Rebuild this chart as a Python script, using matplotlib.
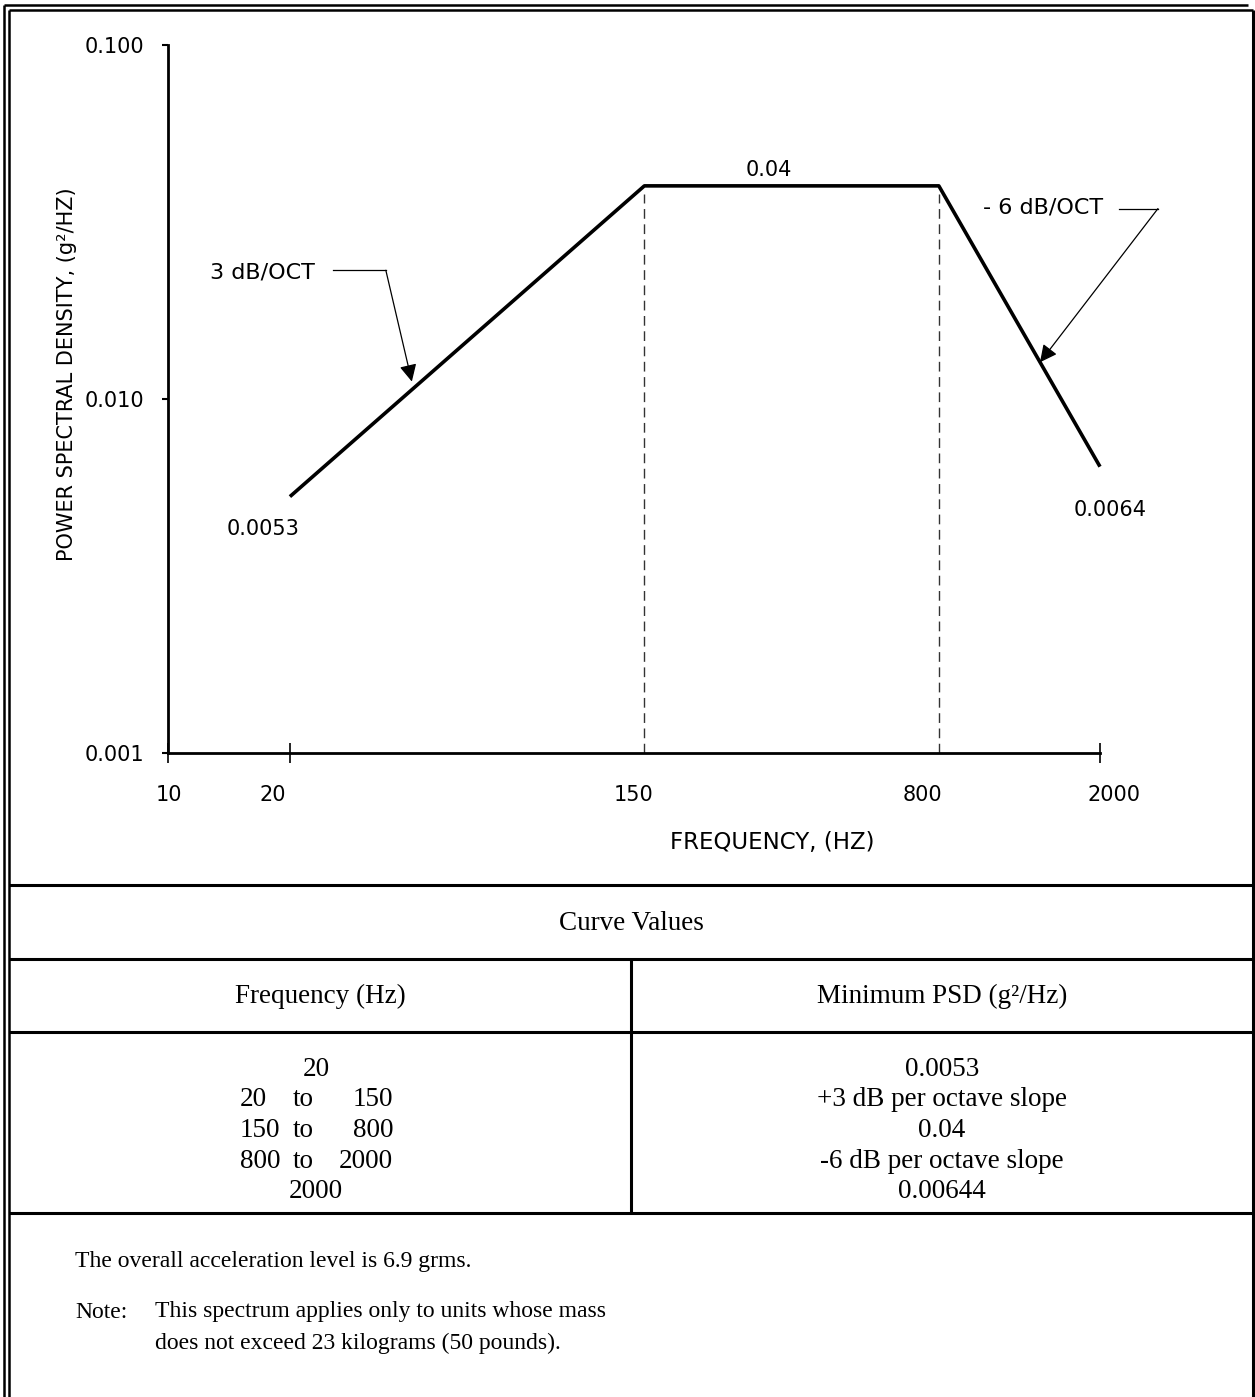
import numpy as np
import matplotlib.pyplot as plt
from matplotlib.transforms import ScaledTranslation

# Random vibration spec: breakpoints of the minimum PSD curve
freq_hz = [20, 150, 800, 2000]
psd_g2hz = [0.0053, 0.04, 0.04, 0.00644]

# Point labels on the curve
psd_labels = ['0.0053', '0.04', '0.0064']

# Axis ticks
xtick_vals = [10, 20, 150, 800, 2000]
xtick_text = ['10', '20', '150', '800', '2000']
ytick_vals = [0.001, 0.01, 0.1]
ytick_text = ['0.001', '0.010', '0.100']

# Curve values table
freq_col = [('20', '', ''), ('20', 'to', '150'), ('150', 'to', '800'),
            ('800', 'to', '2000'), ('2000', '', '')]
psd_col = ['0.0053', '+3 dB per octave slope', '0.04',
           '-6 dB per octave slope', '0.00644']

W, H = 1255, 1397
sans = 'DejaVu Sans'
serif = 'Liberation Serif'
fs_sans = 15
fs_tab = 19.5
fs_note = 17

fig = plt.figure(figsize=(W / 100, H / 100), dpi=100)

# page frame in pixel units
pg = fig.add_axes([0, 0, 1, 1])
pg.set_xlim(0, W)
pg.set_ylim(H, 0)
pg.axis('off')

lk = dict(color='black', solid_capstyle='butt')
pg.plot([4, 4], [5, H], lw=1.8, **lk)
pg.plot([4, 1248], [5, 5], lw=1.8, **lk)
pg.plot([9, 9], [10, H], lw=1.8, **lk)
pg.plot([9, 1253], [10, 10], lw=1.8, **lk)
pg.plot([1253, 1253], [10, H], lw=2.2, **lk)
for yy in [885, 959, 1032, 1213]:
    pg.plot([9, 1253], [yy, yy], lw=2.2, **lk)
pg.plot([631, 631], [959, 1213], lw=2.2, **lk)

pg.text(631, 924, 'Curve Values', family=serif, fontsize=fs_tab,
        ha='center', va='center')
pg.text(320, 996, 'Frequency (Hz)', family=serif, fontsize=fs_tab,
        ha='center', va='center')
pg.text(942, 996, 'Minimum PSD (g\u00b2/Hz)', family=serif, fontsize=fs_tab,
        ha='center', va='center')

row_y = 1069
for (a, mid, b), p in zip(freq_col, psd_col):
    if mid:
        pg.text(240, row_y, a, family=serif, fontsize=fs_tab, ha='left', va='center')
        pg.text(303, row_y, mid, family=serif, fontsize=fs_tab, ha='center', va='center')
        pg.text(393, row_y, b, family=serif, fontsize=fs_tab, ha='right', va='center')
    else:
        pg.text(316, row_y, a, family=serif, fontsize=fs_tab, ha='center', va='center')
    pg.text(942, row_y, p, family=serif, fontsize=fs_tab, ha='center', va='center')
    row_y += 30.7

pg.text(75, 1262, 'The overall acceleration level is 6.9 grms.', family=serif,
        fontsize=fs_note, ha='left', va='center')
pg.text(75, 1312, 'Note:', family=serif, fontsize=fs_note, ha='left', va='center')
pg.text(155, 1312, 'This spectrum applies only to units whose mass',
        family=serif, fontsize=fs_note, ha='left', va='center')
pg.text(155, 1343, 'does not exceed 23 kilograms (50 pounds).', family=serif,
        fontsize=fs_note, ha='left', va='center')

# PSD chart
x0, x1, y0, y1 = 168, 1100, 45, 753
ax = fig.add_axes([x0 / W, 1 - y1 / H, (x1 - x0) / W, (y1 - y0) / H])
ax.patch.set_alpha(0)
ax.set_xscale('log')
ax.set_yscale('log')
ax.set_xlim(10, 2000)
ax.set_ylim(0.001, 0.1)
ax.spines['top'].set_visible(False)
ax.spines['right'].set_visible(False)
ax.spines['left'].set_linewidth(2.0)
ax.spines['bottom'].set_linewidth(2.0)
ax.minorticks_off()

ax.set_yticks(ytick_vals, labels=ytick_text)
ax.tick_params(axis='y', direction='out', length=4, width=1.5, pad=13,
               labelsize=fs_sans)
ax.set_xticks(xtick_vals, labels=xtick_text)
ax.tick_params(axis='x', direction='inout', length=14, width=1.2, pad=16,
               labelsize=fs_sans)
for lab in ax.get_xticklabels() + ax.get_yticklabels():
    lab.set_family(sans)
for i, t in enumerate(ax.xaxis.get_major_ticks()):
    if xtick_vals[i] in (150, 800):
        t.tick1line.set_visible(False)
# labels sit a little off their ticks
for lab, dx in zip(ax.get_xticklabels(), [1, -17, -11, -16, 14]):
    lab.set_transform(lab.get_transform() +
                      ScaledTranslation(dx / 100, 0, fig.dpi_scale_trans))

ax.plot(freq_hz, psd_g2hz, color='black', lw=2.6, solid_capstyle='butt',
        clip_on=False)
for f in freq_hz[1:3]:
    ax.plot([f, f], [0.001, 0.038], color='#333333', lw=1.0,
            dashes=(7, 4), clip_on=False)

ax.text(20 * 0.86, psd_g2hz[0] * 0.81, psd_labels[0], family=sans,
        fontsize=fs_sans, ha='center', va='center')
ax.text(np.sqrt(150 * 800) * 0.88, psd_g2hz[1] * 1.107, psd_labels[1],
        family=sans, fontsize=fs_sans, ha='center', va='center')
ax.text(2000 * 1.06, psd_g2hz[3] * 0.753, psd_labels[2], family=sans,
        fontsize=fs_sans, ha='center', va='center', clip_on=False)

# slope callouts
ax.text(0.045, 0.679, '3 dB/OCT', transform=ax.transAxes, family=sans,
        fontsize=16, ha='left', va='center')
ax.plot([25.5, 34.5], [0.0231, 0.0231], color='black', lw=0.9, clip_on=False)
ax.annotate('', xy=(40, 0.0112), xytext=(34.5, 0.0231),
            arrowprops=dict(arrowstyle='-|>', color='black', lw=0.9,
                            mutation_scale=26, shrinkA=0, shrinkB=0))

ax.text(0.874, 0.770, '- 6 dB/OCT', transform=ax.transAxes, family=sans,
        fontsize=16, ha='left', va='center')
ax.plot([2230, 2780], [0.0345, 0.0345], color='black', lw=0.9, clip_on=False)
ax.annotate('', xy=(1422, 0.0127), xytext=(2780, 0.0345),
            arrowprops=dict(arrowstyle='-|>', color='black', lw=0.9,
                            mutation_scale=26, shrinkA=0, shrinkB=0),
            annotation_clip=False)

pg.text(772, 842, 'FREQUENCY, (HZ)', family=sans, fontsize=16.5,
        ha='center', va='center')
pg.text(67, 374, 'POWER SPECTRAL DENSITY, (g\u00b2/HZ)', family=sans,
        fontsize=15, ha='center', va='center', rotation=90)

fig.savefig('out.png', dpi=100)
